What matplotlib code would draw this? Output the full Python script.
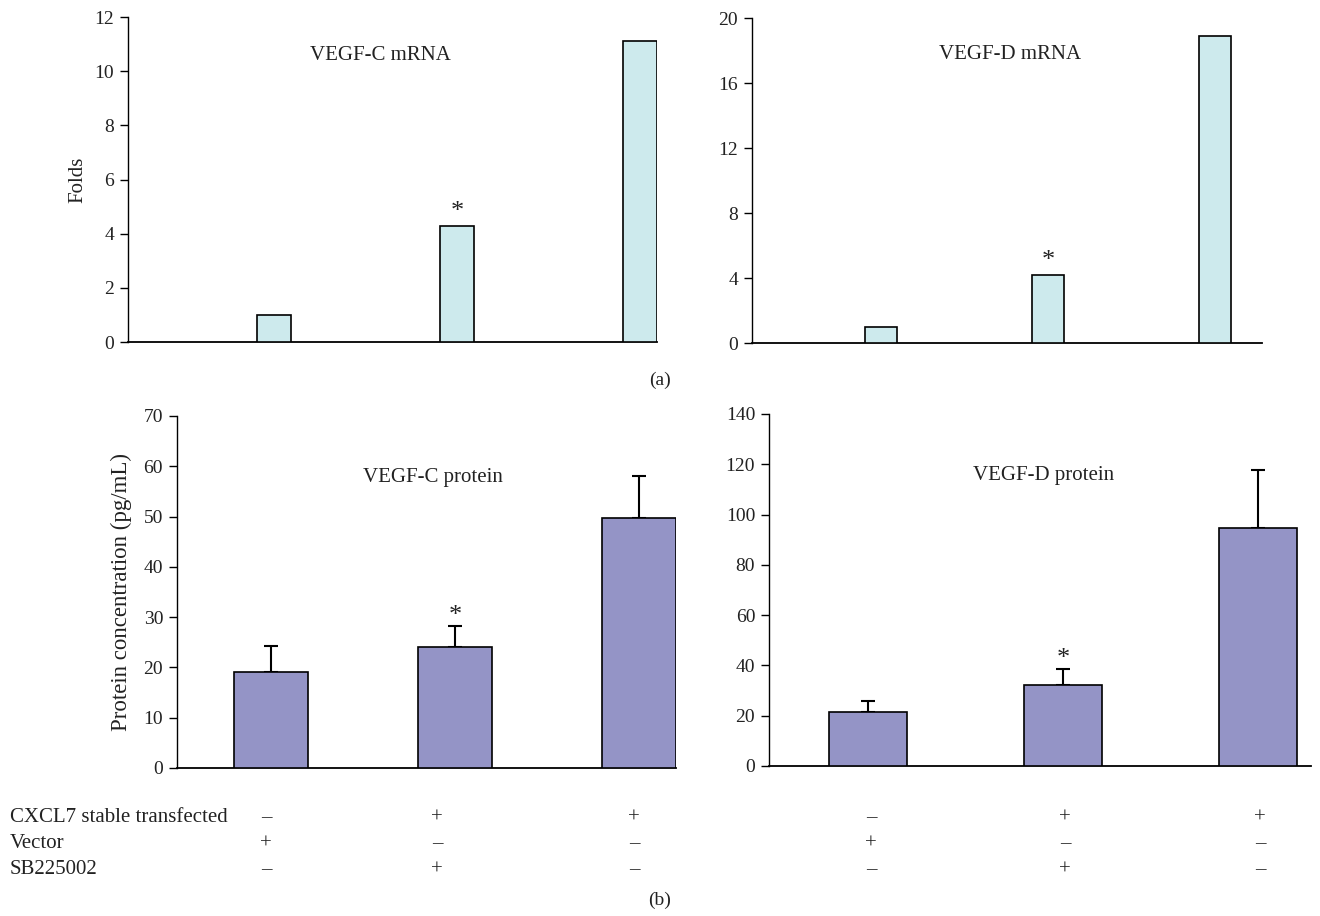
import numpy as np
import matplotlib
matplotlib.use("Agg")
import matplotlib.pyplot as plt

plt.rcParams['font.family'] = ['Liberation Serif', 'DejaVu Serif']

# Data ---------------------------------------------------------------------
groups = [0, 1, 2]

vegfc_mrna = [1.0, 4.3, 11.1]
vegfd_mrna = [1.0, 4.2, 18.9]

vegfc_prot = [19.0, 24.0, 49.7]
vegfc_prot_err = [5.3, 4.3, 8.3]
vegfd_prot = [21.5, 32.3, 94.7]
vegfd_prot_err = [4.5, 6.2, 23.1]

row_labels = ["CXCL7 stable transfected", "Vector", "SB225002"]
row_signs = [["\u2013", "+", "+"],
             ["+", "\u2013", "\u2013"],
             ["\u2013", "+", "\u2013"]]

mrna_color = "#cdeaed"
prot_color = "#9494c6"
text_color = "#222222"

fig = plt.figure(figsize=(13.2, 9.16), dpi=100)

ax1 = fig.add_axes([0.097, 0.6266, 0.4008, 0.3548])
ax2 = fig.add_axes([0.5697, 0.6255, 0.3864, 0.3548])
ax3 = fig.add_axes([0.1341, 0.1616, 0.378, 0.3843])
ax4 = fig.add_axes([0.5826, 0.1638, 0.4106, 0.3843])


def style(ax, ylim, yticks, xlim):
    ax.set_ylim(*ylim)
    ax.set_xlim(*xlim)
    ax.set_yticks(yticks)
    ax.set_xticks([])
    ax.spines['top'].set_visible(False)
    ax.spines['right'].set_visible(False)
    ax.spines['left'].set_linewidth(1.0)
    ax.spines['bottom'].set_linewidth(1.3)
    ax.tick_params(axis='y', direction='out', length=6, width=1.0,
                   labelsize=14, labelcolor=text_color, pad=4)


# (a) mRNA ------------------------------------------------------------------
ax1.bar(groups, vegfc_mrna, width=0.185, color=mrna_color, edgecolor='black', linewidth=1.2, zorder=3)
style(ax1, (0, 12), range(0, 13, 2), (-0.80, 2.093))
ax1.set_ylabel("Folds", fontsize=15, color=text_color, labelpad=5)
ax1.text(0.478, 0.883, "VEGF-C mRNA", transform=ax1.transAxes, ha='center', va='center', fontsize=15, color=text_color)
ax1.text(groups[1], vegfc_mrna[1] + 0.1, "*", ha='center', va='bottom', fontsize=19, color=text_color)

ax2.bar(groups, vegfd_mrna, width=0.19, color=mrna_color, edgecolor='black', linewidth=1.2, zorder=3)
style(ax2, (0, 20), range(0, 21, 4), (-0.77, 2.28))
ax2.text(0.506, 0.889, "VEGF-D mRNA", transform=ax2.transAxes, ha='center', va='center', fontsize=15, color=text_color)
ax2.text(groups[1], vegfd_mrna[1] + 0.15, "*", ha='center', va='bottom', fontsize=19, color=text_color)

fig.text(0.5, 0.585, "(a)", ha='center', va='center', fontsize=14, color=text_color)

# (b) protein -------------------------------------------------------------------
ax3.bar(groups, vegfc_prot, width=0.40, color=prot_color, edgecolor='black', linewidth=1.2, zorder=3)
ax3.errorbar(groups, vegfc_prot, yerr=[np.zeros(3), vegfc_prot_err], fmt='none',
             ecolor='black', elinewidth=1.5, capsize=5, capthick=1.5, zorder=2)
style(ax3, (0, 70), range(0, 71, 10), (-0.51, 2.2))
ax3.set_ylabel("Protein concentration (pg/mL)", fontsize=16.5, color=text_color, labelpad=8)
ax3.text(0.513, 0.824, "VEGF-C protein", transform=ax3.transAxes, ha='center', va='center', fontsize=15, color=text_color)
ax3.text(groups[1], vegfc_prot[1] + vegfc_prot_err[1] - 0.2, "*", ha='center', va='bottom', fontsize=19, color=text_color)

ax4.bar(groups, vegfd_prot, width=0.40, color=prot_color, edgecolor='black', linewidth=1.2, zorder=3)
ax4.errorbar(groups, vegfd_prot, yerr=[np.zeros(3), vegfd_prot_err], fmt='none',
             ecolor='black', elinewidth=1.5, capsize=5, capthick=1.5, zorder=2)
style(ax4, (0, 140), range(0, 141, 20), (-0.51, 2.27))
ax4.text(0.506, 0.824, "VEGF-D protein", transform=ax4.transAxes, ha='center', va='center', fontsize=15, color=text_color)
ax4.text(groups[1], vegfd_prot[1] + vegfd_prot_err[1] - 0.4, "*", ha='center', va='bottom', fontsize=19, color=text_color)

# treatment table under the protein panels
row_y = [818, 844, 870]
sign_x = [266, 437, 634, 871, 1065, 1260]
for label, ypix in zip(row_labels, row_y):
    fig.text(10 / 1320, 1 - ypix / 916, label, ha='left', va='center', fontsize=15, color=text_color)

for r, ypix in enumerate(row_y):
    for k, xpix in enumerate(sign_x):
        fig.text(xpix / 1320, 1 - ypix / 916, row_signs[r][k % 3], ha='center', va='center',
                 fontsize=15, color=text_color)

fig.text(0.5, 1 - 900 / 916, "(b)", ha='center', va='center', fontsize=14, color=text_color)

fig.savefig("out.png", dpi=100)
